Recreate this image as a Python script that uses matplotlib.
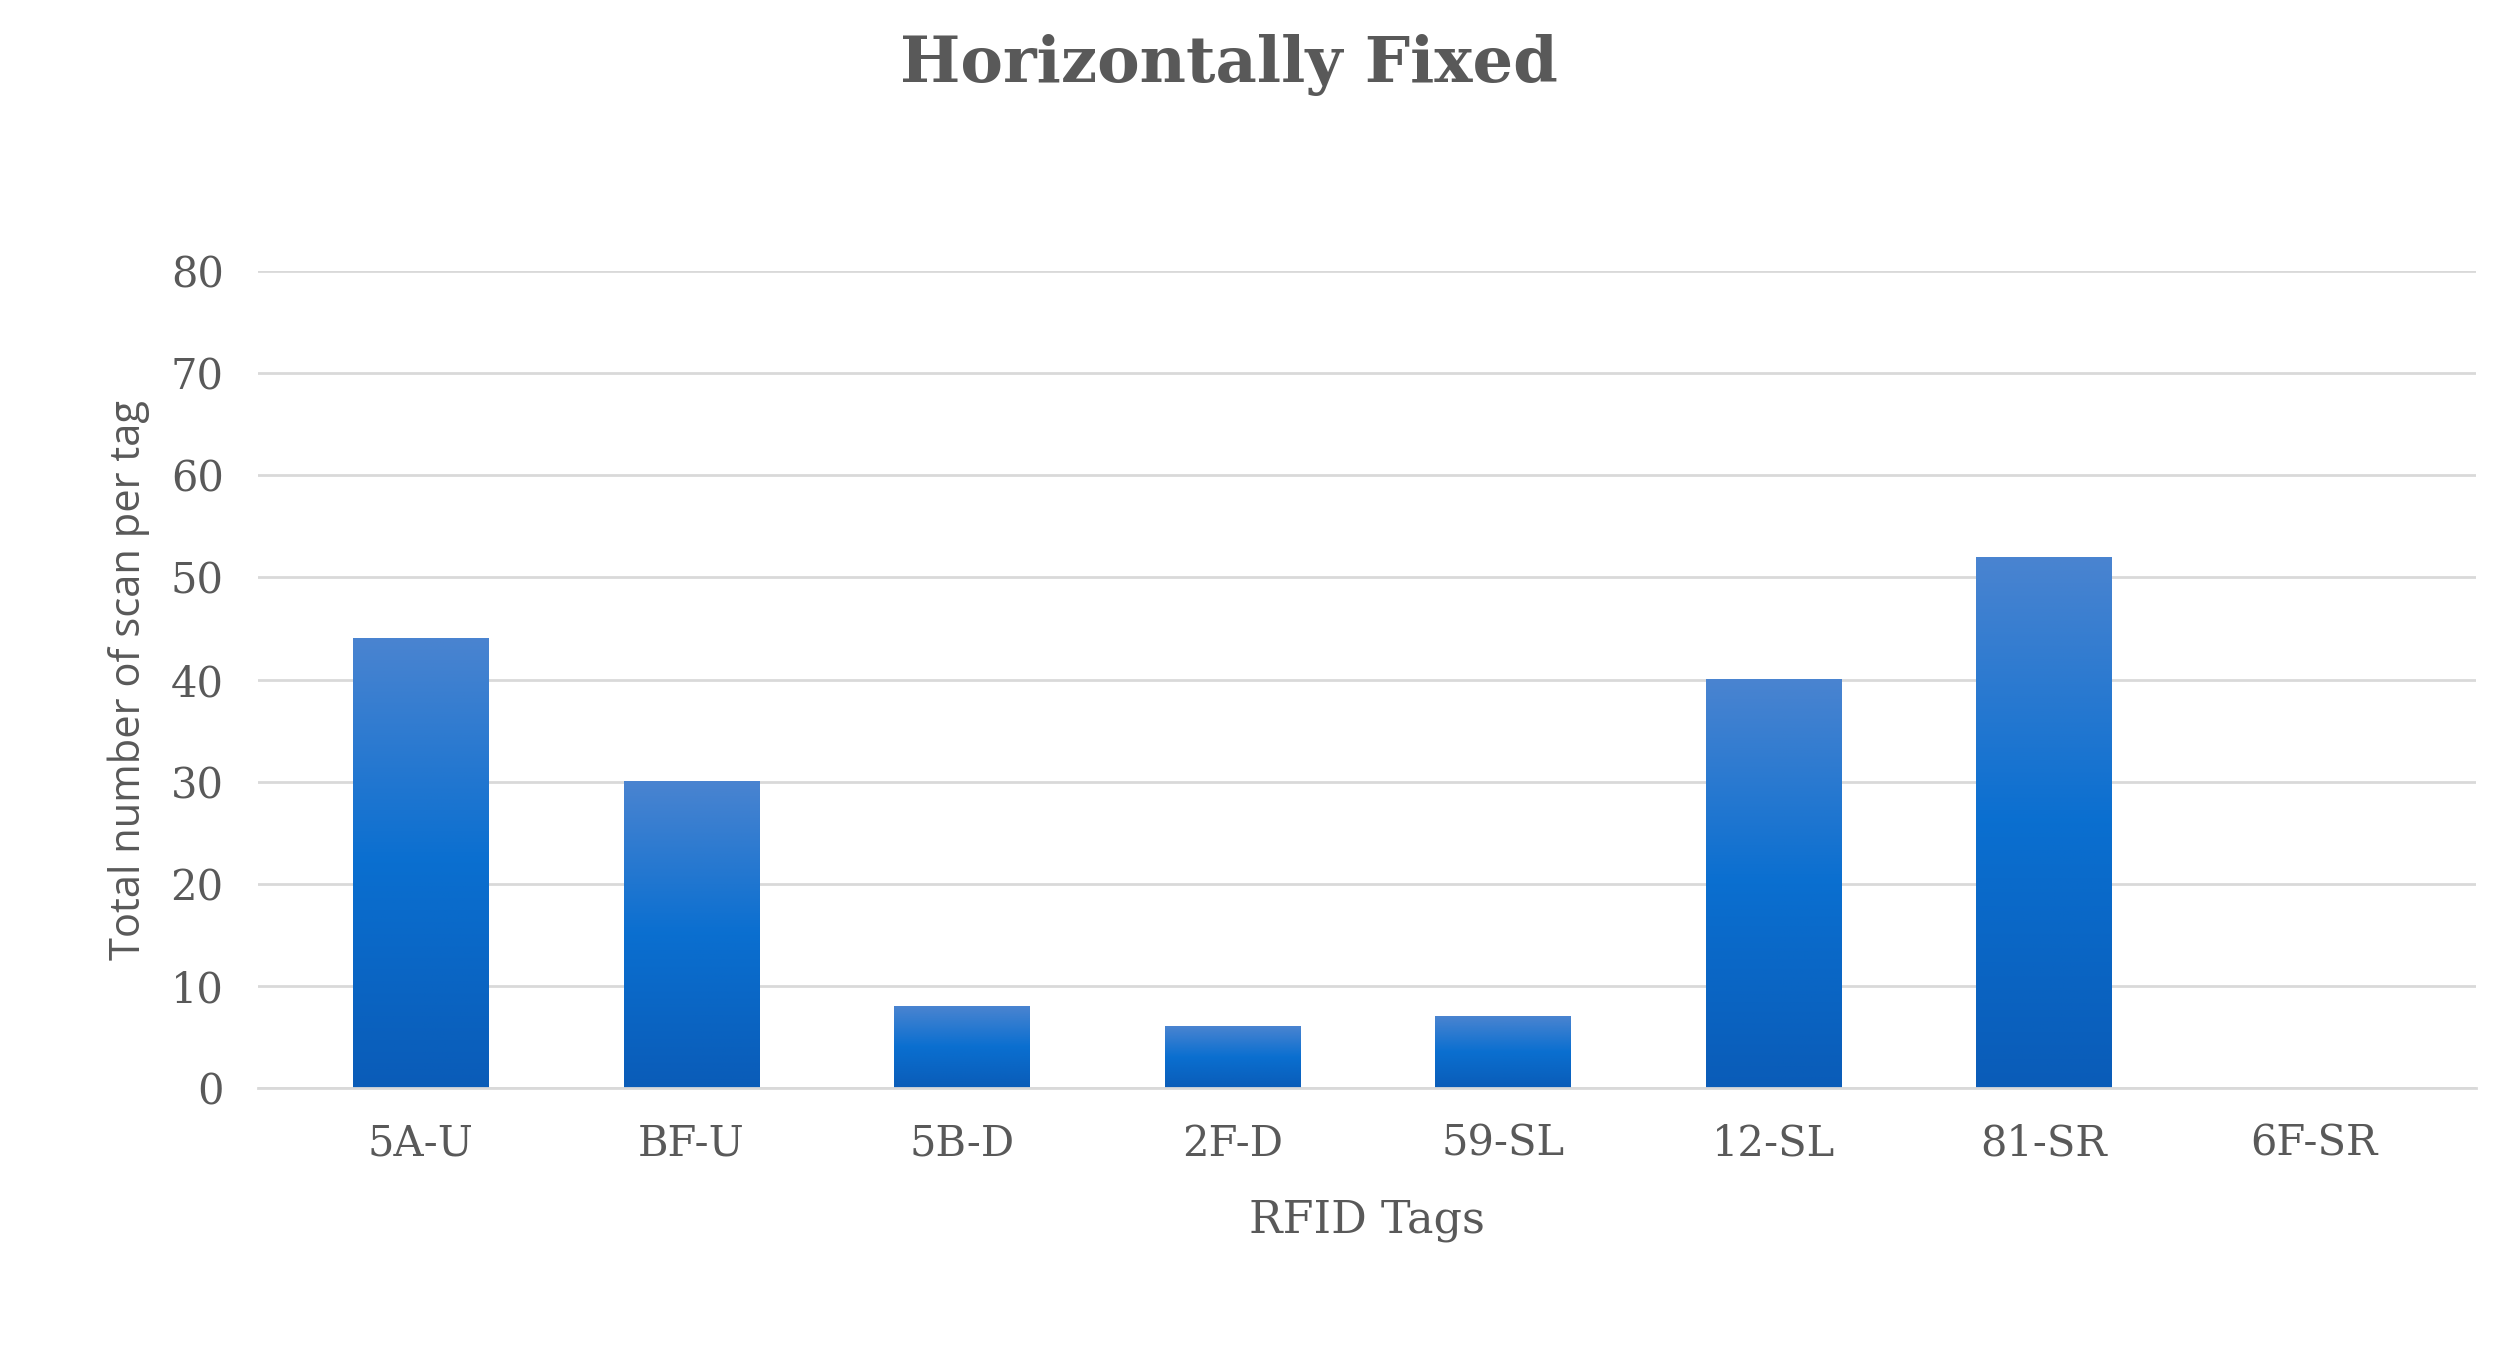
import numpy as np
import matplotlib.pyplot as plt
from matplotlib.colors import LinearSegmentedColormap

tags = ["5A-U", "BF-U", "5B-D", "2F-D", "59-SL", "12-SL", "81-SR", "6F-SR"]
scans = [44, 30, 8, 6, 7, 40, 52, 0]

fig = plt.figure(figsize=(25.09, 13.70), dpi=100)
ax = fig.add_axes([0.103, 0.206, 0.884, 0.596])

cmap = LinearSegmentedColormap.from_list("g", ["#0a5cb8", "#0a6fd0", "#4a84d0"])
grad = np.linspace(0, 1, 256).reshape(-1, 1)
bars = ax.bar(range(len(tags)), scans, width=0.5, color="none", edgecolor="none")
for b in bars:
    if b.get_height() <= 0:
        continue
    x0, w, h = b.get_x(), b.get_width(), b.get_height()
    ax.imshow(grad, cmap=cmap, origin="lower", aspect="auto",
              extent=(x0, x0 + w, 0, h), zorder=2)

ax.set_xlim(-0.6, len(tags) - 0.4)
ax.set_ylim(0, 80)
ax.set_yticks(range(0, 81, 10))
ax.set_xticks(range(len(tags)))
ax.set_xticklabels(tags)
ax.yaxis.grid(True, color="#d9d9d9", linewidth=2)
ax.set_axisbelow(True)
for s in ["top", "right", "left"]:
    ax.spines[s].set_visible(False)
ax.spines["bottom"].set_color("#d9d9d9")
ax.spines["bottom"].set_linewidth(2)
ax.tick_params(length=0, labelsize=30, colors="#595959", pad=25)
for lab in ax.get_xticklabels() + ax.get_yticklabels():
    lab.set_family("DejaVu Serif")

ax.set_xlabel("RFID Tags", fontsize=32, family="DejaVu Serif", color="#595959", labelpad=25)
ax.set_ylabel("Total number of scan per tag", fontsize=30, family="Open Sans", color="#595959", labelpad=15)
fig.suptitle("Horizontally Fixed", fontsize=46, fontweight="bold", family="DejaVu Serif",
             color="#595959", x=0.49, y=0.975)

fig.savefig("out.png", dpi=100, facecolor="white")
